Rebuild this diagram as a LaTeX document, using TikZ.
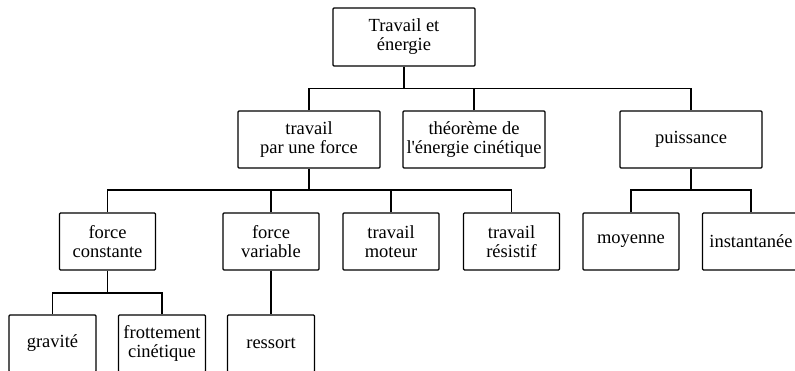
\documentclass[tikz,border=0pt]{standalone}
\usepackage{fontspec}
\setmainfont{Liberation Serif}
\begin{document}
\begin{tikzpicture}[x=1pt,y=-1pt,
  box/.style={draw=black,line width=1.2pt,rounded corners=1pt,align=center,inner sep=0pt,
    font=\fontsize{18.5}{19}\selectfont},
  big/.style={box,minimum width=142pt,minimum height=57pt},
  mid/.style={box,minimum width=96pt,minimum height=57pt},
  small/.style={box,minimum width=87pt,minimum height=57pt},
  link/.style={line width=1.2pt}]
\useasboundingbox (0,0) rectangle (795,371);
\node[big,minimum height=58pt] (root) at (404,37) {Travail et\\énergie};
\node[big] (tpf) at (309,139.5) {travail\\par une force};
\node[big] (theo) at (474,139.5) {théorème de\\l\textquotesingle énergie cinétique};
\node[big] (puis) at (691,139.5) {puissance};
\node[mid] (fc) at (107.5,241.5) {force\\constante};
\node[mid] (fv) at (271,241.5) {force\\variable};
\node[mid] (tm) at (391,241.5) {travail\\moteur};
\node[mid] (tr) at (511.5,241.5) {travail\\résistif};
\node[mid] (moy) at (631,241.5) {moyenne};
\node[mid,minimum width=97pt] (inst) at (751,241.5) {instantanée};
\node[small] (grav) at (52.5,343.5) {gravité};
\node[small] (frott) at (162,343.5) {frottement\\cinétique};
\node[small] (ress) at (271,343.5) {ressort};
\coordinate (b1) at (0,88.5);
\coordinate (b2) at (0,190);
\coordinate (b3) at (0,293);
% level 1
\draw[link] (root.south) -- (root.south |- b1);
\draw[link] (tpf.north) -- (tpf.north |- b1) -| (puis.north);
\draw[link] (theo.north) -- (theo.north |- b1);
% travail par une force
\draw[link] (tpf.south) -- (tpf.south |- b2);
\draw[link] (fc.north) -- (fc.north |- b2) -| (tr.north);
\draw[link] (fv.north) -- (fv.north |- b2);
\draw[link] (tm.north) -- (tm.north |- b2);
% puissance
\draw[link] (puis.south) -- (puis.south |- b2);
\draw[link] (moy.north) -- (moy.north |- b2) -| (inst.north);
% force constante
\draw[link] (fc.south) -- (fc.south |- b3);
\draw[link] (grav.north) -- (grav.north |- b3) -| (frott.north);
% force variable
\draw[link] (fv.south) -- (ress.north);
\end{tikzpicture}
\end{document}
